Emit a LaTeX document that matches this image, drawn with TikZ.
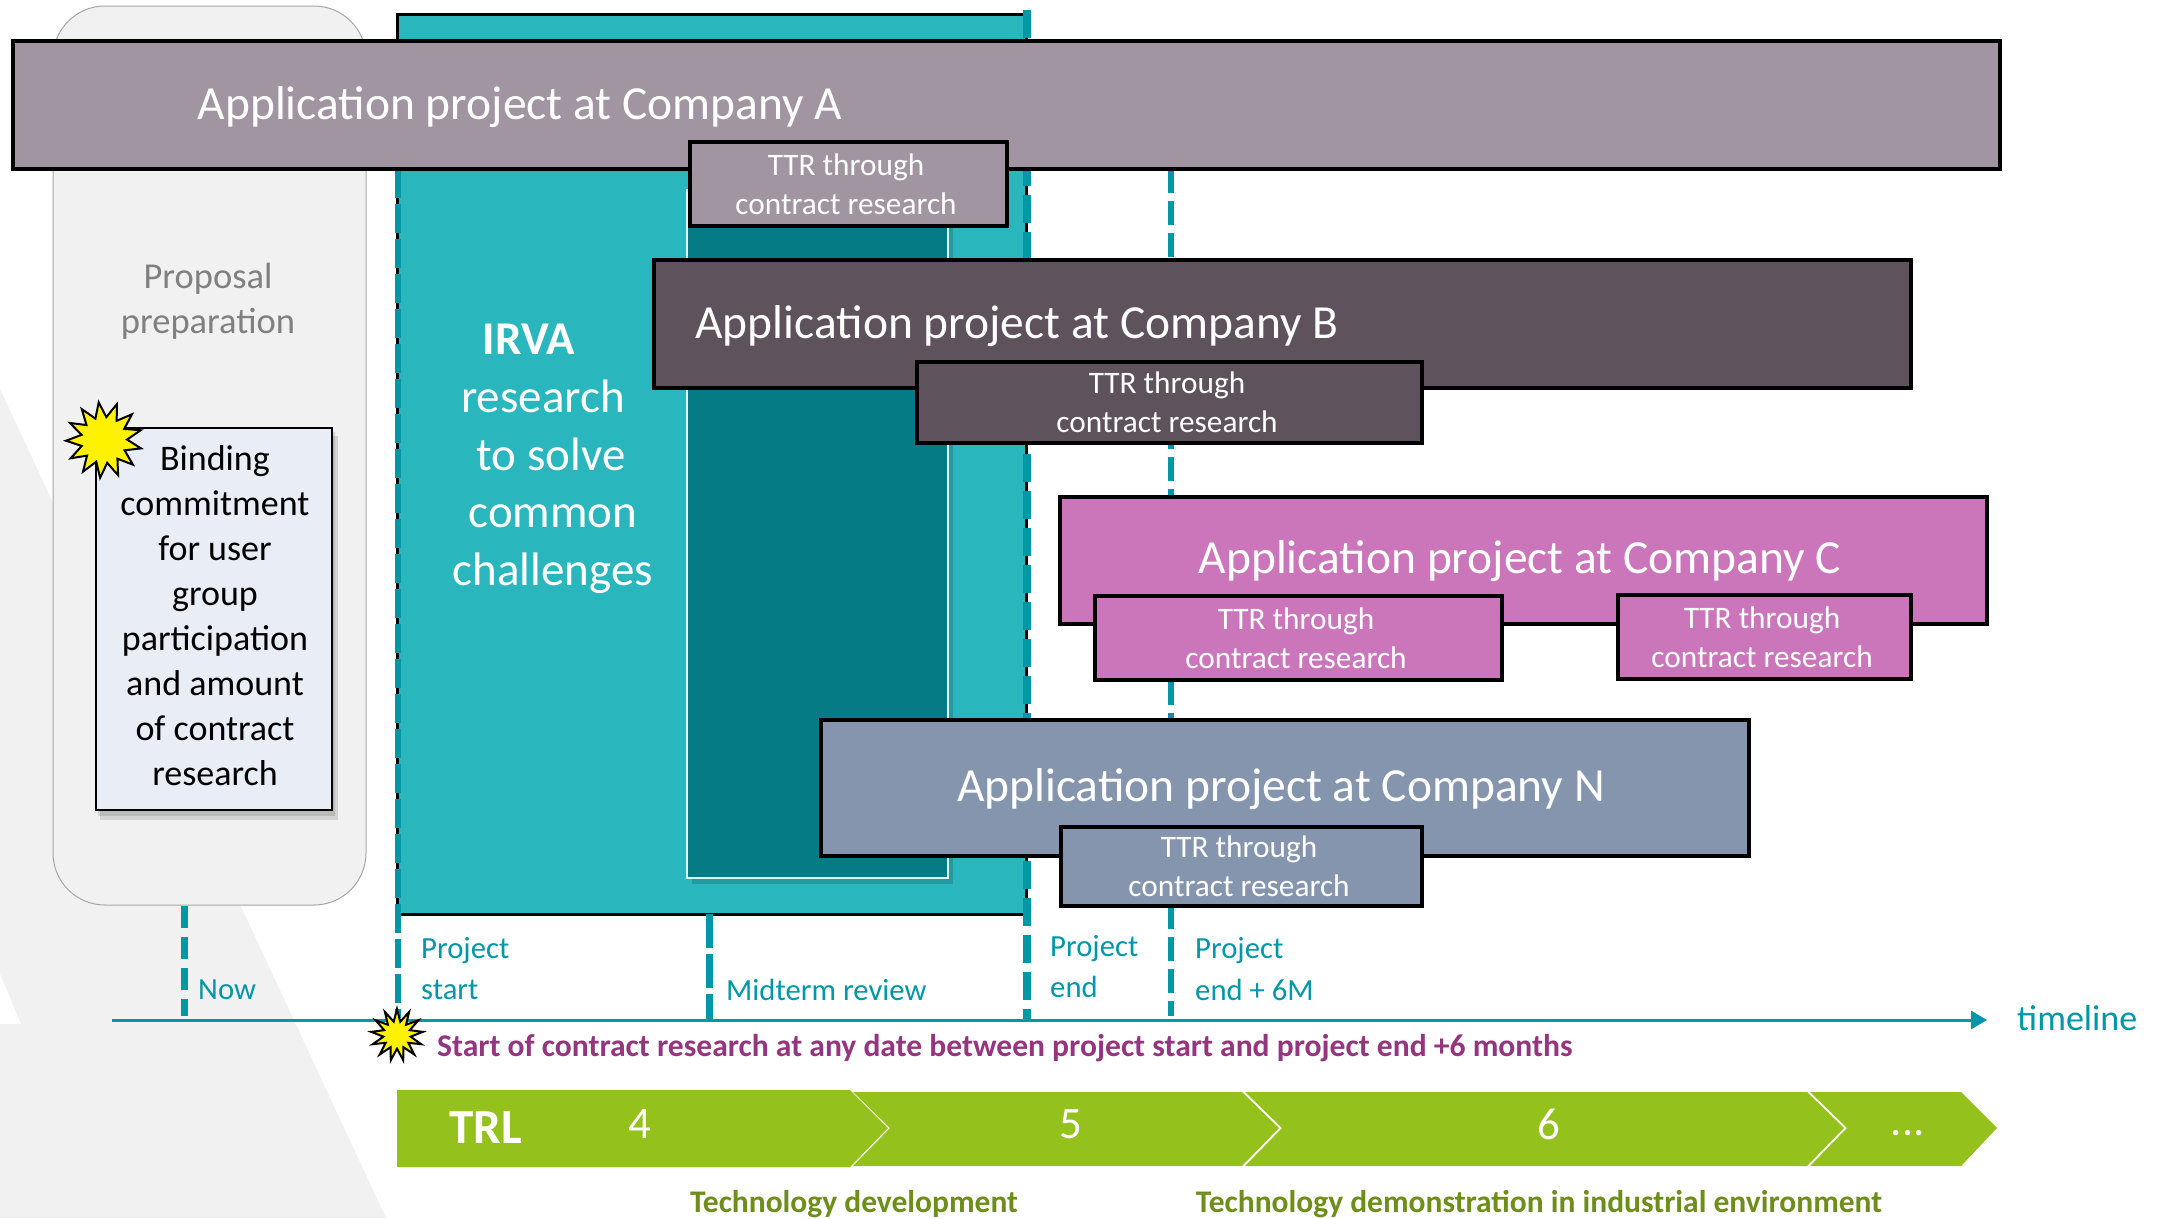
\documentclass[tikz,border=0pt]{standalone}
\usepackage{fontspec}
\setmainfont{Carlito}
\usetikzlibrary{arrows.meta,shapes.geometric,shadows}
\definecolor{teal1}{HTML}{2AB6BD}
\definecolor{teal2}{HTML}{047B85}
\definecolor{teal3}{HTML}{0097A9}
\definecolor{compA}{HTML}{A095A0}
\definecolor{compB}{HTML}{5E525C}
\definecolor{compC}{HTML}{CB76BB}
\definecolor{compN}{HTML}{8595AE}
\definecolor{bandgray}{HTML}{F1F1F1}
\definecolor{bindfill}{HTML}{E9EDF6}
\definecolor{trlgreen}{HTML}{95C11C}
\definecolor{olive}{HTML}{6E8E1A}
\definecolor{purpletxt}{HTML}{953580}
\newcommand\fs[2]{\fontsize{#1}{#2}\selectfont}
\newcommand\bx[7]{\node[#6,minimum width={#4-#2},minimum height={#5-#3}] (#1) at ({(#2+#4)/2},{(#3+#5)/2}) {#7};}
\newcommand\ttrtext{TTR through\hspace*{5pt}\\contract research\hspace*{5pt}}
\tikzset{
  boxbase/.style={rectangle,inner sep=0pt,outer sep=0pt,align=center,text=white},
  projbox/.style={boxbase,draw=black,line width=3.1pt,font=\fs{47.5}{57}},
  ttrbox/.style={boxbase,draw=black,line width=3.1pt,font=\fs{31.3}{39}},
  burst/.style={star,star points=13,star point ratio=1.65,inner sep=0pt,minimum size=#1,draw=black,fill=yellow,line width=2pt},
  tealdash/.style={draw=teal3,line width=#1},
  lbl/.style={anchor=west,inner sep=0pt,text=teal3,font=\fs{30.7}{38},align=left},
  irvatext/.style={inner sep=0pt,text=white,font=\fs{47}{56}},
  trltext/.style={inner sep=0pt,text=white,font=\fs{45}{53}},
  prjtext/.style={inner sep=0pt,text=white,font=\fs{47.5}{57}},
  footnote/.style={inner sep=0pt,text=olive,font=\fs{31.5}{36}\bfseries}
}
\begin{document}
\begin{tikzpicture}[x=1pt,y=-1pt]
\useasboundingbox (0,0) rectangle (2157,1218);
\fill[white] (0,0) rectangle (2157,1218);
% background wedge
\fill[bandgray] (0,389) -- (386,1218) -- (0,1218) -- cycle;
\fill[white] (0,974) -- (21,1024) -- (0,1024) -- cycle;
% proposal
\bx{prop}{53}{6}{366}{905}{rectangle,rounded corners=52pt,draw=black!35,line width=1pt,fill=bandgray,inner sep=0pt,outer sep=0pt}{}
\node[inner sep=0pt,align=center,text=black!50,font=\fs{36.5}{45}] (proptxt) at (208,301) {Proposal\\preparation};
% binding
\fill[black,opacity=.12] (100,436) rectangle (338,820);
\fill[black,opacity=.12] (98,432) rectangle (335,816);
\bx{bind}{96}{428}{332}{810}{rectangle,draw=black,line width=2.6pt,fill=bindfill,inner sep=0pt,outer sep=0pt}{}
\node[inner sep=0pt,align=center,font=\fs{36}{45}] (bindtxt) at (215,616) {Binding\\commitment\\for user\\group\\participation\\and amount\\of contract\\research};
\node[burst=76pt,rotate=8] (star1) at (104,440) {};
% IRVA block
\bx{irva}{397}{14}{1026}{914}{rectangle,draw=black,line width=3pt,fill=teal1,inner sep=0pt,outer sep=0pt}{}
\fill[black,opacity=.15] (692,190) rectangle (953,884);
\bx{inner}{687}{190}{948}{878}{rectangle,draw=white!85!teal1,line width=2pt,fill=teal2,inner sep=0pt,outer sep=0pt}{}
\node[irvatext,font=\fs{47}{56}\bfseries] (i1) at (529,339) {IRVA};
\node[irvatext] (i2) at (543,396) {research};
\node[irvatext] (i3) at (551,454) {to solve};
\node[irvatext] (i4) at (553,516) {common};
\node[irvatext] (i5) at (553,573) {challenges};
% timeline
\coordinate (tstart) at (112,1020);
\coordinate (tend) at (1987,1020);
\coordinate (nowTop) at (184,906);
\coordinate (nowBot) at (184,1016);
\coordinate (psTop) at (398,169);
\coordinate (psBot) at (398,1018);
\coordinate (midTop) at (709,914);
\coordinate (midBot) at (709,1020);
\coordinate (peTop) at (1027,10);
\coordinate (peBot) at (1027,1020);
\coordinate (p6Top) at (1171,169);
\coordinate (p6Bot) at (1171,1016);
\draw[tealdash=7pt,dash pattern=on 22pt off 9pt] (nowTop) -- (nowBot);
\draw[tealdash=6.5pt,dash pattern=on 29pt off 6pt] (psTop) -- (psBot);
\draw[tealdash=7pt,dash pattern=on 34pt off 6pt] (midTop) -- (midBot);
\draw[tealdash=8.5pt,dash pattern=on 28pt off 9pt] (peTop) -- (peBot);
\draw[tealdash=6.5pt,dash pattern=on 24pt off 8pt] (p6Top) -- (p6Bot);
\draw[draw=teal3,line width=3pt,-{Triangle[length=16pt,width=18pt]}] (tstart) -- (tend);
\node[burst=52pt,star points=13,star point ratio=1.9] (star2) at (397,1035) {};
% labels
\node[lbl] (lnow) at (198,990) {Now};
\node[lbl] (lps1) at (421,951) {Project};
\node[lbl] (lps2) at (421,990) {start};
\node[lbl] (lmid) at (726,990) {Midterm review};
\node[lbl] (lpe1) at (1050,949) {Project};
\node[lbl] (lpe2) at (1050,987) {end};
\node[lbl] (lp61) at (1195,951) {Project};
\node[lbl] (lp62) at (1195,990) {end + 6M};
\node[lbl,font=\fs{36}{42}] (ltl) at (2017,1018) {timeline};
\node[inner sep=0pt,anchor=west,text=purpletxt,font=\fs{31.6}{38}\bfseries] (ptext) at (437,1048) {Start of contract research at any date between project start and project end +6 months};
% companies
\bx{coA}{13}{41}{2000}{169}{projbox,fill=compA}{}
\node[prjtext] (coAt) at (520,107) {Application project at Company A};
\bx{tA}{690}{142}{1007}{226}{ttrbox,fill=compA}{\ttrtext}
\bx{coB}{654}{260}{1911}{388}{projbox,fill=compB}{}
\node[prjtext] (coBt) at (1017,326) {Application project at Company B};
\bx{tB}{917}{362}{1422}{443}{ttrbox,fill=compB}{\ttrtext}
\bx{coC}{1060}{497}{1987}{624}{projbox,fill=compC}{}
\node[prjtext] (coCt) at (1520,561) {Application project at Company C};
\bx{tC1}{1095}{596}{1502}{680}{ttrbox,fill=compC}{\ttrtext}
\bx{tC2}{1618}{595}{1911}{679}{ttrbox,fill=compC}{\ttrtext}
\bx{coN}{821}{720}{1749}{856}{projbox,fill=compN}{}
\node[prjtext] (coNt) at (1281,789) {Application project at Company N};
\bx{tN}{1061}{827}{1422}{906}{ttrbox,fill=compN}{\ttrtext}
% TRL bar
\fill[trlgreen] (397,1090) -- (850,1090) -- (888,1128) -- (850,1167) -- (397,1167) -- cycle;
\fill[trlgreen] (853,1092) -- (1242,1092) -- (1279,1128) -- (1242,1166) -- (853,1166) -- (890,1128) -- cycle;
\fill[trlgreen] (1245,1092) -- (1807,1092) -- (1844,1128) -- (1807,1166) -- (1245,1166) -- (1282,1128) -- cycle;
\fill[trlgreen] (1810,1092) -- (1961,1092) -- (1997,1128) -- (1961,1166) -- (1810,1166) -- (1847,1128) -- cycle;
\node[inner sep=0pt,text=white,font=\fs{49}{56}\bfseries] (trl) at (486,1128) {TRL};
\node[trltext] (n4) at (640,1124) {4};
\node[trltext] (n5) at (1071,1124) {5};
\node[trltext] (n6) at (1549,1124) {6};
\node[trltext] (n7) at (1908,1133) {...};
\node[footnote] (f1) at (854,1204) {Technology development};
\node[footnote] (f2) at (1539,1204) {Technology demonstration in industrial environment};
\end{tikzpicture}
\end{document}
